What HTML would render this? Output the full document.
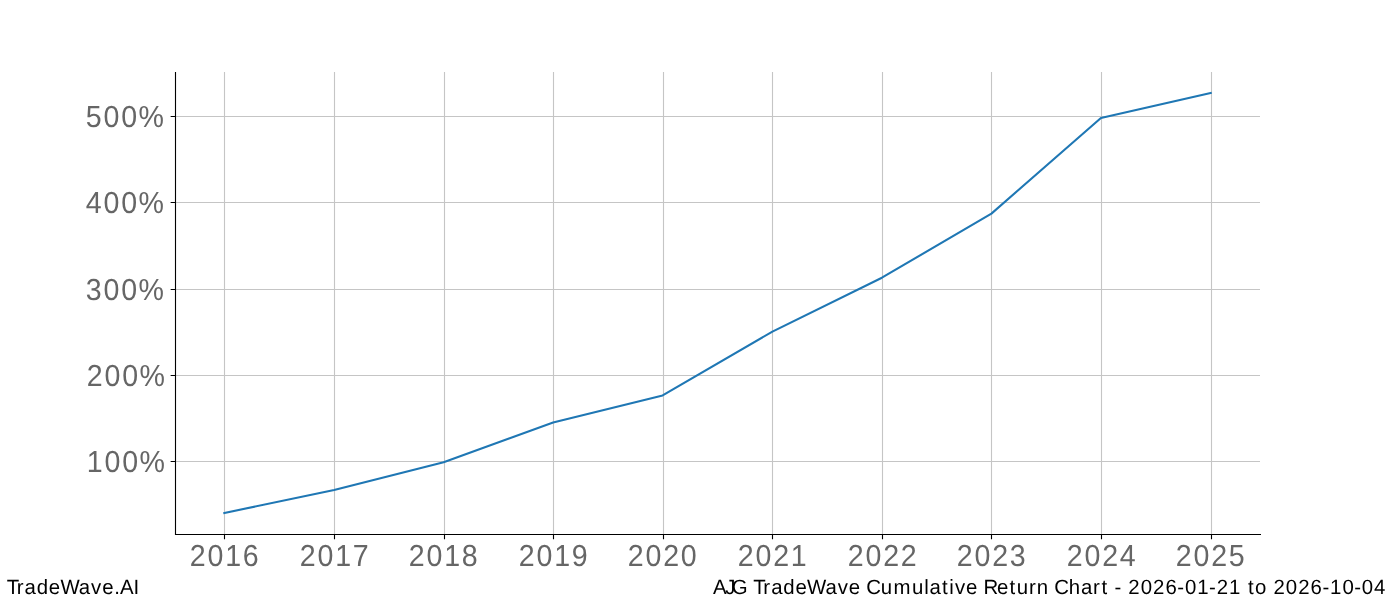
<!DOCTYPE html><html><head><meta charset="utf-8"><title>AJG TradeWave Cumulative Return Chart</title><style>html,body{margin:0;padding:0;background:#fff;width:1400px;height:600px;overflow:hidden}svg{display:block;will-change:transform}text{text-rendering:geometricPrecision;font-family:"Liberation Sans",sans-serif;white-space:pre}</style></head><body>
<svg width="1400" height="600" viewBox="0 0 1400 600">
<rect width="1400" height="600" fill="#fff"/>
<path d="M224.5 72V534M334.5 72V534M444.5 72V534M553.5 72V534M663.5 72V534M772.5 72V534M882.5 72V534M991.5 72V534M1101.5 72V534M1211.5 72V534M175 116.5H1260M175 202.5H1260M175 289.5H1260M175 375.5H1260M175 461.5H1260" stroke="#c5c5c5" stroke-width="1.111" fill="none"/>
<polyline points="224.32,513.00 334.12,490.00 443.62,462.20 553.12,422.40 662.62,395.40 772.42,331.60 881.92,277.70 991.42,213.60 1100.92,118.00 1210.72,93.00" fill="none" stroke="#1f77b4" stroke-width="2.083" stroke-linejoin="round" stroke-linecap="square"/>
<path d="M175.5 72V535" stroke="#000" stroke-width="1.111" fill="none"/><path d="M175 534.5H1261" stroke="#000" stroke-width="1.111" fill="none"/>
<path d="M175.5 116.5H170.64M175.5 202.5H170.64M175.5 289.5H170.64M175.5 375.5H170.64M175.5 461.5H170.64M224.5 534.5V539.36M334.5 534.5V539.36M444.5 534.5V539.36M553.5 534.5V539.36M663.5 534.5V539.36M772.5 534.5V539.36M882.5 534.5V539.36M991.5 534.5V539.36M1101.5 534.5V539.36M1211.5 534.5V539.36" stroke="#000" stroke-width="1.111" fill="none"/>
<text x="91.30 110.05 128.93 147.39" y="126.80" font-size="30.4" fill="#666666" transform="scale(0.9400,1)">500%</text>
<text x="91.30 110.05 128.93 147.39" y="212.80" font-size="30.4" fill="#666666" transform="scale(0.9400,1)">400%</text>
<text x="91.25 110.13 129.01 147.47" y="299.80" font-size="30.4" fill="#666666" transform="scale(0.9400,1)">300%</text>
<text x="92.36 111.11 129.99 148.45" y="385.80" font-size="30.4" fill="#666666" transform="scale(0.9400,1)">200%</text>
<text x="92.36 111.11 129.99 148.45" y="471.80" font-size="30.4" fill="#666666" transform="scale(0.9400,1)">100%</text>
<text x="201.97 220.72 239.61 258.36" y="566.00" font-size="30.4" fill="#666666" transform="scale(0.9400,1)">2016</text>
<text x="319.00 337.75 356.63 375.38" y="566.00" font-size="30.4" fill="#666666" transform="scale(0.9400,1)">2017</text>
<text x="434.95 453.70 472.59 491.34" y="566.00" font-size="30.4" fill="#666666" transform="scale(0.9400,1)">2018</text>
<text x="551.97 570.72 589.61 608.36" y="566.00" font-size="30.4" fill="#666666" transform="scale(0.9400,1)">2019</text>
<text x="667.93 686.68 705.56 724.31" y="566.00" font-size="30.4" fill="#666666" transform="scale(0.9400,1)">2020</text>
<text x="784.95 803.70 822.59 841.34" y="566.00" font-size="30.4" fill="#666666" transform="scale(0.9400,1)">2021</text>
<text x="901.97 920.72 939.61 958.36" y="566.00" font-size="30.4" fill="#666666" transform="scale(0.9400,1)">2022</text>
<text x="1017.93 1036.68 1055.56 1074.31" y="566.00" font-size="30.4" fill="#666666" transform="scale(0.9400,1)">2023</text>
<text x="1134.95 1153.70 1172.59 1191.34" y="566.00" font-size="30.4" fill="#666666" transform="scale(0.9400,1)">2024</text>
<text x="1250.91 1269.66 1288.54 1307.29" y="566.00" font-size="30.4" fill="#666666" transform="scale(0.9400,1)">2025</text>
<text x="6.84 16.95 24.84 37.05 49.36 61.16 79.64 92.01 103.28 115.34 121.24 134.94" y="594.00" font-size="20.6" fill="#000" transform="scale(0.9900,1)">TradeWave.AI</text>
<text x="720.17 732.59 739.24 755.18 760.94 771.06 778.95 791.16 803.47 815.26 833.75 846.11 857.38 869.45 874.92 889.76 902.62 921.20 933.52 938.92 951.62 958.77 964.55 975.81 987.88 993.32 1007.00 1019.80 1027.01 1039.49 1047.21 1059.35 1064.82 1079.66 1091.83 1104.14 1112.73 1119.70 1125.87 1133.21 1139.78 1152.28 1164.66 1177.16 1189.25 1196.85 1209.23 1221.32 1228.93 1241.43 1253.67 1260.71 1267.70 1279.80 1286.37 1298.87 1311.25 1323.75 1335.84 1343.45 1355.95 1367.91 1375.52 1387.89" y="594.00" font-size="20.6" fill="#000" transform="scale(0.9900,1)">AJG TradeWave Cumulative Return Chart - 2026-01-21 to 2026-10-04</text>
</svg></body></html>
